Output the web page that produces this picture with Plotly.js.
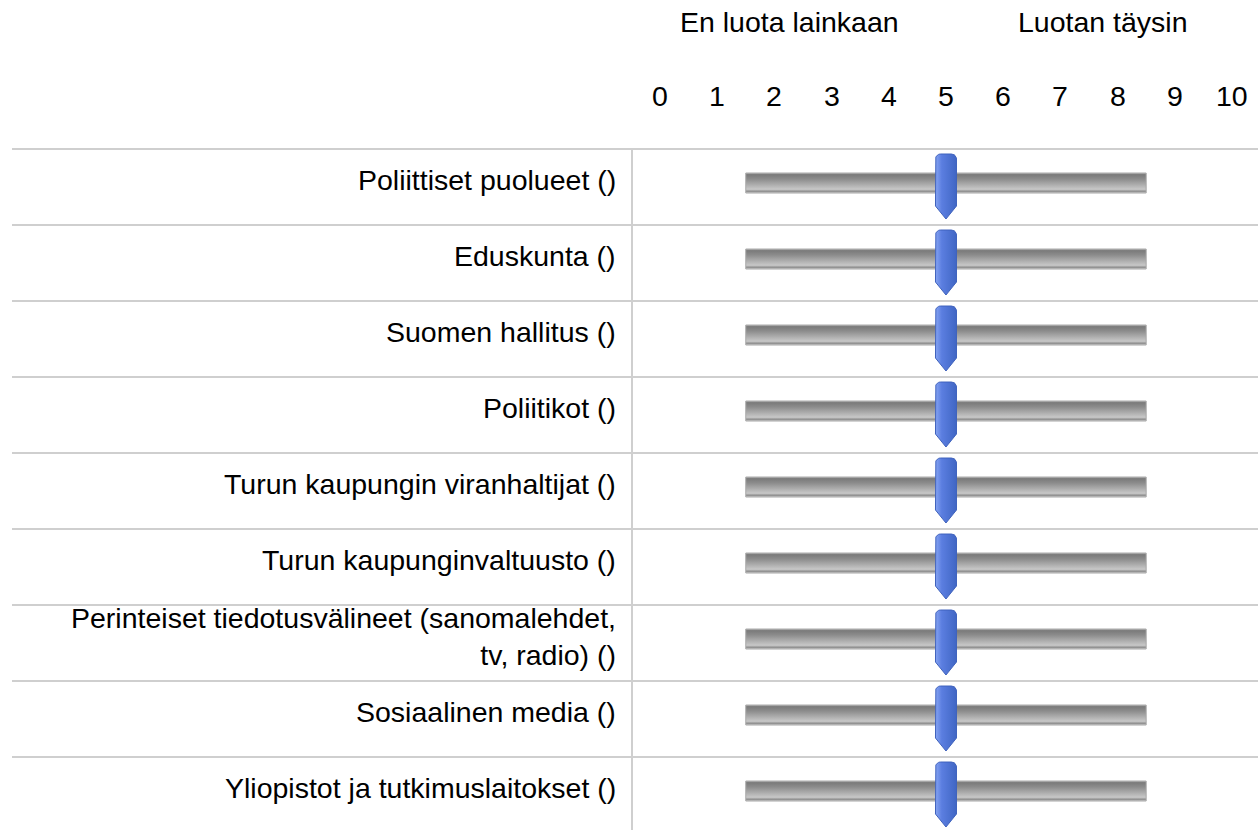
<!DOCTYPE html>
<html>
<head>
<meta charset="utf-8">
<script src="https://cdn.plot.ly/plotly-3.0.1.min.js"></script>
<style>html,body{margin:0;padding:0;background:#fff;}#chart{width:1258px;height:830px;}</style>
</head>
<body>
<div id="chart"></div>
<script>
// ---- data ----
const categories = [
  'Poliittiset puolueet ()',
  'Eduskunta ()',
  'Suomen hallitus ()',
  'Poliitikot ()',
  'Turun kaupungin viranhaltijat ()',
  'Turun kaupunginvaltuusto ()',
  'Perinteiset tiedotusvälineet (sanomalehdet,<br>tv, radio) ()',
  'Sosiaalinen media ()',
  'Yliopistot ja tutkimuslaitokset ()'
];
const values = [5, 5, 5, 5, 5, 5, 5, 5, 5];
const scaleTicks = [0, 1, 2, 3, 4, 5, 6, 7, 8, 9, 10];
const scaleTickLabels = ['0', '1', '2', '3', '4', '5', '6', '7', '8', '9', '10'];
const anchorLabels = ['En luota lainkaan', 'Luotan täysin'];
const anchorValues = [2.27, 7.75];

// ---- layout constants (geometry / style) ----
const FONT = 'Liberation Sans, Arial, sans-serif';
const FS = 28.5;
const trackStart = 1.5, trackEnd = 8.5;
const trackTop = -0.184, trackBot = 0.079;
const hw = 0.1836, hTop = -0.434, hShoulder = 0.25, hTip = 0.421;
const rx = 0.0874, ry = 0.0658;

const traces = [];
categories.forEach((c, i) => {
  traces.push({
    type: 'scatter', mode: 'lines', hoverinfo: 'skip',
    x: [trackStart, trackEnd, trackEnd, trackStart, trackStart],
    y: [i + trackTop, i + trackTop, i + trackBot, i + trackBot, i + trackTop],
    fill: 'toself',
    fillgradient: {type: 'vertical', start: i + trackTop, stop: i + trackBot,
      colorscale: [[0, '#b4b4b4'], [0.08, '#7a7a7a'], [0.3, '#8c8c8c'], [0.8, '#c6c6c6'],
                   [0.86, '#bdbdbd'], [0.9, '#7e7e7e'], [1, '#d2d2d2']]},
    line: {color: '#a8a8a8', width: 1}
  });
});
values.forEach((v, i) => {
  const xs = [], ys = [];
  xs.push(v - hw); ys.push(i + hShoulder);
  for (let k = 0; k <= 8; k++) {
    const a = Math.PI + k * (Math.PI / 2) / 8;
    xs.push(v - hw + rx + rx * Math.cos(a)); ys.push(i + hTop + ry + ry * Math.sin(a));
  }
  for (let k = 0; k <= 8; k++) {
    const a = 1.5 * Math.PI + k * (Math.PI / 2) / 8;
    xs.push(v + hw - rx + rx * Math.cos(a)); ys.push(i + hTop + ry + ry * Math.sin(a));
  }
  xs.push(v + hw); ys.push(i + hShoulder);
  xs.push(v); ys.push(i + hTip);
  xs.push(v - hw); ys.push(i + hShoulder);
  traces.push({
    type: 'scatter', mode: 'lines', hoverinfo: 'skip',
    x: xs, y: ys, fill: 'toself',
    fillgradient: {type: 'horizontal', start: v - hw, stop: v + hw,
      colorscale: [[0, '#86a4f2'], [0.3, '#5b7ee0'], [1, '#4066c4']]},
    line: {color: '#3f62bd', width: 1}
  });
});

const shapes = [];
for (let i = 0; i < categories.length; i++) {
  shapes.push({type: 'line', xref: 'paper', yref: 'y', x0: 12 / 1258, x1: 1, y0: i - 0.5, y1: i - 0.5,
    line: {color: '#cfcfcf', width: 2}, layer: 'below'});
}
shapes.push({type: 'line', xref: 'paper', yref: 'y', x0: 632 / 1258, x1: 632 / 1258, y0: -0.5, y1: categories.length - 0.5,
  line: {color: '#cfcfcf', width: 2}, layer: 'below'});

const annotations = [];
categories.forEach((c, i) => {
  annotations.push({xref: 'paper', yref: 'y', x: 618 / 1258, y: i, xanchor: 'right', yanchor: 'middle',
    yshift: 7, text: c, align: 'right', showarrow: false, font: {family: FONT, size: FS, color: '#000'}});
});
scaleTicks.forEach((t, k) => {
  annotations.push({xref: 'x', yref: 'y', x: t, y: -1.2, xanchor: 'center', yanchor: 'middle',
    text: scaleTickLabels[k], showarrow: false, font: {family: FONT, size: FS, color: '#000'}});
});
anchorLabels.forEach((t, k) => {
  annotations.push({xref: 'x', yref: 'y', x: anchorValues[k], y: -2.17, xanchor: 'center', yanchor: 'middle',
    text: t, showarrow: false, font: {family: FONT, size: FS, color: '#000'}});
});

const layout = {
  width: 1258, height: 830,
  margin: {l: 0, r: 0, t: 0, b: 0, pad: 0},
  paper_bgcolor: '#fff', plot_bgcolor: '#fff',
  showlegend: false,
  xaxis: {range: [-11.538, 10.455], visible: false, fixedrange: true},
  yaxis: {range: [8.4605, -2.4605], visible: false, fixedrange: true},
  shapes: shapes,
  annotations: annotations
};
Plotly.newPlot('chart', traces, layout, {displayModeBar: false, staticPlot: true});
</script>
</body>
</html>
